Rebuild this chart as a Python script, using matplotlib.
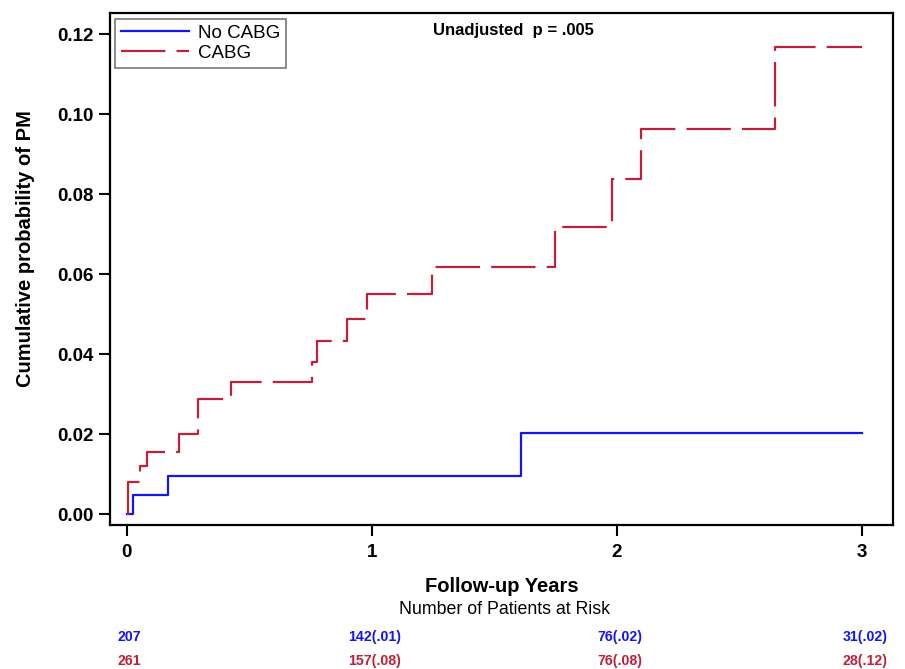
import matplotlib
matplotlib.use("Agg")
import matplotlib.pyplot as plt
import matplotlib.transforms as mtransforms

plt.rcParams['font.family'] = ['Liberation Sans', 'DejaVu Sans']

# Kaplan-Meier style cumulative incidence
no_cabg_t = [0, 0.026, 0.169, 1.61, 3.0]
no_cabg_y = [0, 0.00475, 0.0095, 0.0202, 0.0202]

cabg_t = [0, 0.003, 0.053, 0.083, 0.213, 0.291, 0.427, 0.754, 0.777, 0.897,
          0.981, 1.244, 1.746, 1.982, 2.10, 2.645, 3.0]
cabg_y = [0, 0.0081, 0.012, 0.0156, 0.020, 0.0288, 0.033, 0.038, 0.0433, 0.0488,
          0.055, 0.0618, 0.0718, 0.0838, 0.0963, 0.1168, 0.1168]

risk_times = [0, 1, 2, 3]
risk_no_cabg = ["207", "142(.01)", "76(.02)", "31(.02)"]
risk_cabg = ["261", "157(.08)", "76(.08)", "28(.12)"]

blue = "#1515F0"
red = "#C0203A"

fig = plt.figure(figsize=(9.05, 6.69), dpi=100)
ax = fig.add_axes([0.1215, 0.2152, 0.8652, 0.7653])

ax.step(no_cabg_t, no_cabg_y, where="post", color=blue, lw=1.6, label="No CABG")
ax.step(cabg_t, cabg_y, where="post", color=red, lw=1.6, dashes=(20, 5), label="CABG")

ax.set_xlim(-0.069, 3.127)
ax.set_ylim(-0.00275, 0.1253)
ax.set_xticks([0, 1, 2, 3])
ax.set_yticks([0, 0.02, 0.04, 0.06, 0.08, 0.10, 0.12])
ax.set_yticklabels(["0.00", "0.02", "0.04", "0.06", "0.08", "0.10", "0.12"])
for s in ax.spines.values():
    s.set_linewidth(1.6)
ax.tick_params(length=8, width=1.5, labelsize=13.5)
ax.tick_params(axis="x", pad=6)
for lab in ax.get_xticklabels() + ax.get_yticklabels():
    lab.set_fontweight("bold")

ax.set_ylabel("Cumulative probability of PM", fontsize=14.5, fontweight="bold")
ax.yaxis.set_label_coords(-0.096, 0.54)
ax.set_xlabel("Follow-up Years", fontsize=14.5, fontweight="bold", labelpad=11)

leg = ax.legend(loc="upper left", fontsize=13.5, handlelength=3.6, frameon=True,
                fancybox=False, edgecolor="#555555", borderpad=0.3, labelspacing=0.15,
                handletextpad=0.5, borderaxespad=0.0, bbox_to_anchor=(0.007, 0.988))
leg.get_frame().set_linewidth(1.2)

ax.text(0.515, 0.98, "Unadjusted  p = .005", transform=ax.transAxes, fontsize=12,
        fontweight="bold", ha="center", va="top")

fig.text(0.557, 1 - 610 / 669, "Number of Patients at Risk", fontsize=12.8,
         ha="center", va="center")

trans = mtransforms.blended_transform_factory(ax.transData, fig.transFigure)
for t, a, b in zip(risk_times, risk_no_cabg, risk_cabg):
    ax.text(t + 0.012, 1 - 637 / 669, a, transform=trans, color=blue, fontsize=10.2,
            fontweight="bold", ha="center", va="center")
    ax.text(t + 0.012, 1 - 661 / 669, b, transform=trans, color=red, fontsize=10.2,
            fontweight="bold", ha="center", va="center")

fig.savefig("out.png", dpi=100)
